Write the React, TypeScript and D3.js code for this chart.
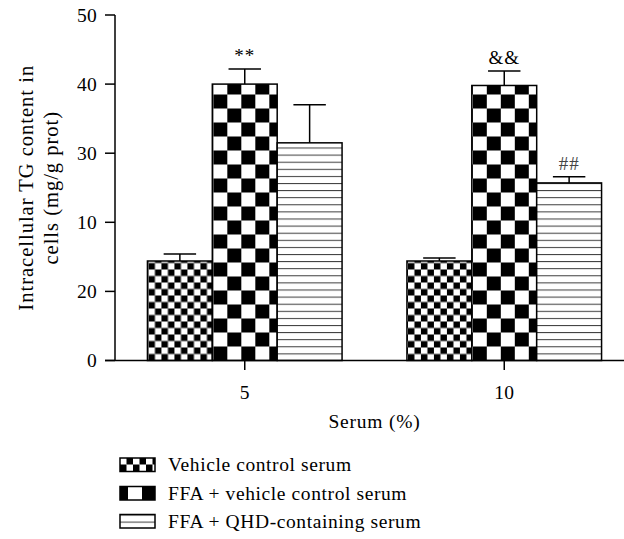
import React from 'react';
import * as d3 from 'd3';

const categories = ['5', '10'];
const seriesNames = ['Vehicle control serum', 'FFA + vehicle control serum', 'FFA + QHD-containing serum'];
const vehicleMeans = [14.4, 14.4];
const vehicleErrors = [1.0, 0.45];
const ffaMeans = [40.0, 39.8];
const ffaErrors = [2.2, 2.1];
const qhdMeans = [31.5, 25.7];
const qhdErrors = [5.5, 0.9];
const ffaMarks = ['**', '&&'];
const qhdMarks = ['', '##'];
const vehicleMarks = ['', ''];
const yTickValues = [0, 10, 20, 30, 40, 50];
const yTickLabels = ['0', '20', '10', '30', '40', '50'];
const xTitle = 'Serum (%)';
const yTitle = ['Intracellular TG content in', 'cells (mg/g prot)'];

const FONT = '"Liberation Serif", "Times New Roman", serif';
const W = 624;
const H = 539;

const series = [
  { name: seriesNames[0], means: vehicleMeans, errors: vehicleErrors, marks: vehicleMarks, kind: 'small' },
  { name: seriesNames[1], means: ffaMeans, errors: ffaErrors, marks: ffaMarks, kind: 'large' },
  { name: seriesNames[2], means: qhdMeans, errors: qhdErrors, marks: qhdMarks, kind: 'stripe' },
];

function PatternDef({ id, kind, x, y }: { id: string; kind: string; x: number; y: number }) {
  if (kind === 'stripe') {
    const s = 7.1;
    return (
      <pattern id={id} patternUnits="userSpaceOnUse" x={x} y={y} width={20} height={s}>
        <rect width={20} height={s} fill="#fff" />
        <line x1={0} x2={20} y1={0.5} y2={0.5} stroke="#3a3a3a" strokeWidth={1} />
      </pattern>
    );
  }
  const c = kind === 'small' ? 6.5 : 14;
  return (
    <pattern id={id} patternUnits="userSpaceOnUse" x={x} y={y} width={2 * c} height={2 * c}>
      <rect width={2 * c} height={2 * c} fill="#fff" />
      <rect x={c} y={0} width={c} height={c} fill="#000" />
      <rect x={0} y={c} width={c} height={c} fill="#000" />
    </pattern>
  );
}

export default function App() {
  const x0 = d3.scaleBand<string>().domain(categories).range([115, 634]).paddingInner(0.25).paddingOuter(0.125);
  const x1 = d3.scaleBand<string>().domain(seriesNames).range([0, x0.bandwidth()]);
  const y = d3.scaleLinear().domain([0, 50]).range([360.5, 15]);
  const bw = x1.bandwidth();

  const bars: any[] = [];
  series.forEach((s, si) => {
    categories.forEach((c, ci) => {
      const bx = (x0(c) as number) + (x1(s.name) as number);
      bars.push({
        id: `p-${si}-${ci}`,
        kind: s.kind,
        x: bx,
        top: y(s.means[ci]),
        cap: y(s.means[ci] + s.errors[ci]),
        mark: s.marks[ci],
      });
    });
  });

  const legendY = [458, 486.5, 514.5];
  const swX = 120;
  const swW = 35;
  const swH = 13.5;

  return (
    <svg width={W} height={H} style={{ position: 'absolute', left: 0, top: 0, background: '#fff' }} fontFamily={FONT}>
      <defs>
        {bars.map((b) => (
          <PatternDef key={b.id} id={b.id} kind={b.kind} x={b.x + 1} y={y(0)} />
        ))}
        {series.map((s, i) => (
          <PatternDef key={'l' + i} id={'lg-' + i} kind={s.kind} x={s.kind === 'large' ? swX - 20 : swX} y={legendY[i]} />
        ))}
      </defs>
      <rect width={W} height={H} fill="#fff" />

      {/* bars */}
      {bars.map((b) => (
        <g key={b.id}>
          <line x1={b.x + bw / 2} x2={b.x + bw / 2} y1={b.top} y2={b.cap} stroke="#000" strokeWidth={1.5} />
          <line x1={b.x + bw / 4} x2={b.x + (3 * bw) / 4} y1={b.cap} y2={b.cap} stroke="#000" strokeWidth={1.5} />
          <rect x={b.x} y={b.top} width={bw} height={y(0) - b.top} fill={`url(#${b.id})`} stroke="#000" strokeWidth={1.5} />
          {b.mark && (
            <text x={b.x + bw / 2} y={b.cap - 7} textAnchor="middle" fontSize={19} letterSpacing={1} fill={b.mark === '##' ? '#444' : '#000'}>
              {b.mark}
            </text>
          )}
        </g>
      ))}

      {/* y axis */}
      <line x1={115} x2={115} y1={y(50)} y2={y(0)} stroke="#000" strokeWidth={1.5} />
      {yTickValues.map((v, i) => (
        <g key={v}>
          <line x1={105} x2={115} y1={y(v)} y2={y(v)} stroke="#000" strokeWidth={1.5} />
          <text x={97} y={y(v)} dy="0.35em" textAnchor="end" fontSize={19.5} letterSpacing={0.3}>
            {yTickLabels[i]}
          </text>
        </g>
      ))}

      {/* x axis */}
      <line x1={105} x2={634} y1={y(0)} y2={y(0)} stroke="#000" strokeWidth={1.5} />
      {categories.map((c) => {
        const cx = (x0(c) as number) + x0.bandwidth() / 2;
        return (
          <g key={c}>
            <line x1={cx} x2={cx} y1={y(0)} y2={y(0) + 9.5} stroke="#000" strokeWidth={1.5} />
            <text x={cx} y={399} textAnchor="middle" fontSize={19.5} letterSpacing={0.3}>
              {c}
            </text>
          </g>
        );
      })}
      <text x={(115 + 634) / 2} y={428} textAnchor="middle" fontSize={19.5} letterSpacing={0.8}>
        {xTitle}
      </text>

      {/* y title */}
      {yTitle.map((t, i) => (
        <text key={i} transform={`translate(${33 + i * 24.5},${(y(0) + y(50)) / 2}) rotate(-90)`} textAnchor="middle" fontSize={20.5} letterSpacing={1}>
          {t}
        </text>
      ))}

      {/* legend */}
      {series.map((s, i) => (
        <g key={s.name}>
          <rect x={swX} y={legendY[i]} width={swW} height={swH} fill={`url(#lg-${i})`} stroke="#000" strokeWidth={1.5} />
          <text x={168} y={legendY[i] + 13.3} fontSize={19.5} letterSpacing={0.6}>
            {s.name}
          </text>
        </g>
      ))}
    </svg>
  );
}
